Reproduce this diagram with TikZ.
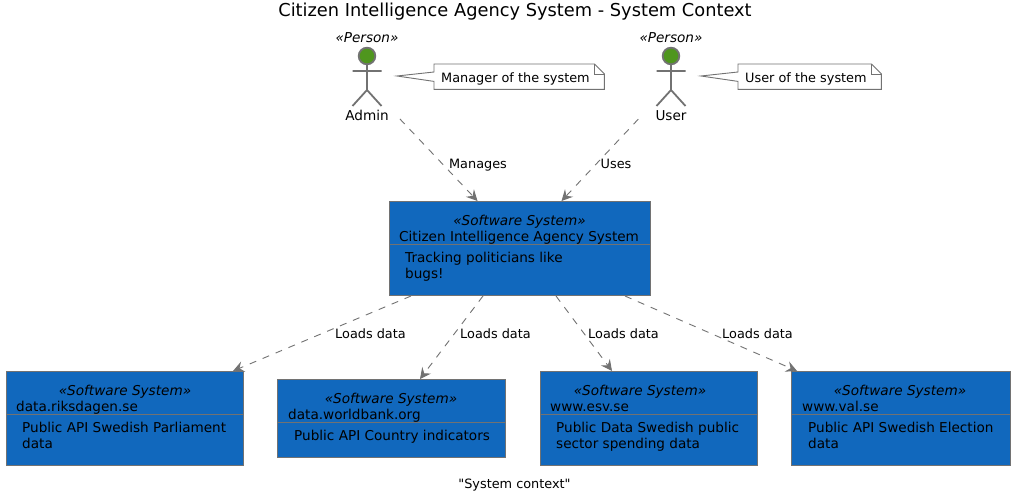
\documentclass[tikz,border=0pt]{standalone}
\usepackage{fontspec}
\setmainfont{DejaVu Sans}[Ligatures=TeXOff]
\usetikzlibrary{arrows.meta,calc}
\definecolor{sysblue}{HTML}{1168BD}
\definecolor{edge}{HTML}{727272}
\definecolor{headgreen}{HTML}{4F961E}
\tikzset{
  sysbox/.style={draw=edge,line width=1pt,fill=sysblue,inner sep=0pt,anchor=north west},
  txt/.style={inner sep=0pt,anchor=base west,font=\fontsize{13.6}{16}\selectfont},
  stereo/.style={inner sep=0pt,anchor=base,font=\fontsize{13.6}{16}\selectfont\itshape},
  small/.style={inner sep=0pt,anchor=base,font=\fontsize{12.85}{15}\selectfont},
  rel/.style={draw=edge,line width=.9pt,dash pattern=on 7pt off 7pt,-{Stealth[inset=4pt,length=11pt,width=11pt,sep=0pt]}},
  actorline/.style={draw=edge,line width=1.8pt},
  notebox/.style={inner sep=0pt,minimum height=25pt,anchor=north west},
  noteline/.style={draw=edge,line width=.9pt,fill=white,line join=miter}
}
% \sysb{id}{x}{y}{w}{h}{divider y}{stereo cx}{name}{text x}
\newcommand{\sysb}[9]{%
  \node[sysbox,minimum width=#4pt,minimum height=#5pt] (#1) at (#2,#3) {};
  \draw[draw=edge,line width=.7pt] ([yshift=-#6pt]#1.north west) -- ([yshift=-#6pt]#1.north east);
  \node[stereo] (#1s) at (#7,#3+24) {«Software System»};
  \node[txt] (#1n) at (#9-6,#3+40) {#8};
}
\newcommand{\actor}[3]{% id, x, name
  \node[stereo] (#1s) at (#2,42.5) {«Person»};
  \draw[actorline,fill=headgreen] (#2,56) circle[radius=8.3];
  \draw[actorline] (#2,64.5) -- (#2,90) -- (#2-14.5,106) (#2,90) -- (#2+14.5,106) (#2-14.5,71) -- (#2+14.5,71);
  \node[inner sep=0pt,anchor=base,font=\fontsize{13.6}{16}\selectfont] (#1) at (#2,121) {#3};
}
% \notem{id}{x}{w}{text}{tip x}
\newcommand{\notem}[5]{%
  \node[notebox,minimum width=#3pt] (#1) at (#2,64) {};
  \draw[noteline] (#1.north west) -- ([xshift=-10pt]#1.north east) -- ([yshift=-10pt]#1.north east) -- (#1.south east) -- (#1.south west)
     -- ([yshift=8pt]#1.south west) -- (#5,76) -- ([yshift=-8pt]#1.north west) -- cycle;
  \draw[noteline,fill=none] ([xshift=-10pt]#1.north east) -- ([xshift=-10pt,yshift=-10pt]#1.north east) -- ([yshift=-10pt]#1.north east);
  \node[small,anchor=base west] (#1t) at (#2+7,82.5) {#4};
}
\begin{document}
\begin{tikzpicture}[x=1pt,y=-1pt]
\useasboundingbox (0,0) rectangle (1020,500);
\fill[white] (0,0) rectangle (1020,500);
\node[inner sep=0pt,anchor=base,font=\fontsize{17.8}{20}\selectfont] (title) at (515,16.7) {Citizen Intelligence Agency System - System Context};
\actor{admin}{367}{Admin}
\actor{user}{671}{User}
\notem{noteA}{434}{170}{Manager of the system}{397}
\notem{noteU}{738}{143}{User of the system}{701}

\sysb{main}{389}{201}{261}{94}{43}{519.5}{Citizen Intelligence Agency System}{405}
\node[txt] (maind1) at (405,262) {Tracking politicians like};
\node[txt] (maind2) at (405,278) {bugs!};

\sysb{riks}{6}{371}{237}{94}{43}{125}{data.riksdagen.se}{22}
\node[txt] (riksd1) at (22,432) {Public API Swedish Parliament};
\node[txt] (riksd2) at (22,448) {data};

\sysb{bank}{277}{379}{228}{78}{43}{391}{data.worldbank.org}{294}
\node[txt] (bankd1) at (294,440) {Public API Country indicators};

\sysb{esv}{540}{371}{217}{94}{43}{640}{www.esv.se}{556}
\node[txt] (esvd1) at (556,432) {Public Data Swedish public};
\node[txt] (esvd2) at (556,448) {sector spending data};

\sysb{val}{791}{371}{219}{94}{43}{900}{www.val.se}{808}
\node[txt] (vald1) at (808,432) {Public API Swedish Election};
\node[txt] (vald2) at (808,448) {data};

\draw[rel] ([xshift=11pt,yshift=-3pt]admin.east) -- ([xshift=-42.5pt]main.north);
\draw[rel] ([xshift=-17pt,yshift=-3pt]user.west) -- ([xshift=41.5pt]main.north);
\draw[rel] ([xshift=22pt]main.south west) -- ([xshift=-11pt]riks.north east);
\draw[rel] ([xshift=94pt]main.south west) -- ([xshift=143pt]bank.north west);
\draw[rel] ([xshift=167pt]main.south west) -- ([xshift=72pt]esv.north west);
\draw[rel] ([xshift=236pt]main.south west) -- ([xshift=6pt]val.north west);

\node[small] (lblM) at (478,168) {Manages};
\node[small] (lblU) at (616,168) {Uses};
\node[small] (lbl1) at (370.5,338) {Loads data};
\node[small] (lbl2) at (495.5,338) {Loads data};
\node[small] (lbl3) at (623.5,338) {Loads data};
\node[small] (lbl4) at (757.5,338) {Loads data};
\node[small] (cap) at (514.5,488) {"System context"};
\end{tikzpicture}
\end{document}
